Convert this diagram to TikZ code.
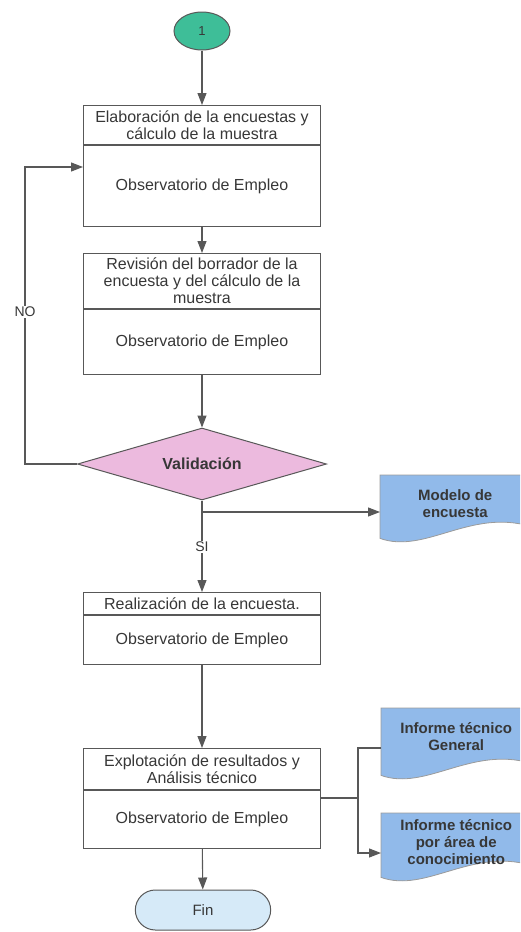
\documentclass[tikz,border=0pt]{standalone}
\usepackage{fontspec}
\setmainfont{Liberation Sans}
\usetikzlibrary{shapes,
	arrows,
	arrows.meta,
	calc,
	positioning}
\definecolor{lin}{RGB}{88,88,88}
\definecolor{txt}{RGB}{55,55,55}
\definecolor{startgreen}{RGB}{62,190,152}
\definecolor{decpink}{RGB}{236,186,222}
\definecolor{docblue}{RGB}{145,186,234}
\definecolor{finblue}{RGB}{214,234,248}
\tikzstyle{hd}=[draw=lin, line width=1pt, minimum width=237pt, inner sep=0,
		align=center, text=txt, font=\fontsize{16}{17}\selectfont, anchor=north]
\tikzstyle{bd}=[hd]
\tikzstyle{ln}=[draw=lin, line width=1.1pt]
\tikzstyle{flow}=[ln, -{Triangle[length=12pt,width=9pt]}]
\tikzstyle{lbl}=[fill=white, inner sep=1pt, text=txt, font=\fontsize{14}{16}\selectfont]
\tikzstyle{doc}=[minimum width=150pt, inner sep=0, anchor=north west, align=center,
		text=txt, font=\bfseries\fontsize{15}{17}\selectfont]
% document shape with wavy bottom, drawn round a named node
\newcommand{\docshape}[1]{
	\filldraw[fill=docblue, draw=lin!60, line width=0.8pt]
		(#1.north east) -- (#1.north west) -- ($(#1.south west)+(0,8)$)
		.. controls ($(#1.south west)+(45,24)$) and ($(#1.south east)+(-60,-22)$)
		.. ($(#1.south east)+(0,-4)$) -- cycle;
}

\begin{document}
\begin{tikzpicture}[x=1pt, y=-1pt]
	\useasboundingbox (0,0) rectangle (520,932);
	\clip (0,0) rectangle (520,932);

	\node[ellipse, draw=lin, line width=1pt, fill=startgreen, minimum width=56pt,
		minimum height=38pt, text=txt, font=\fontsize{13}{15}\selectfont] (start) at (202,31) {1};

	\node[hd, minimum height=39pt] (elab) at (202,105)
		{Elaboración de la encuestas y\\cálculo de la muestra};
	\node[bd, minimum height=81pt] (elabobs) at (elab.south) {Observatorio de Empleo};

	\node[hd, minimum height=55pt] (rev) at (202,253)
		{Revisión del borrador de la\\encuesta y del cálculo de la\\muestra};
	\node[bd, minimum height=65pt] (revobs) at (rev.south) {Observatorio de Empleo};

	\node[diamond, aspect=3.46, draw=lin, line width=1pt, fill=decpink, inner sep=0,
		minimum width=249pt, minimum height=72pt, text=txt,
		font=\bfseries\fontsize{16}{18}\selectfont] (valid) at (202,464) {Validación};

	\node[hd, minimum height=22pt] (real) at (202,592) {Realización de la encuesta.};
	\node[bd, minimum height=49pt] (realobs) at (real.south) {Observatorio de Empleo};

	\node[hd, minimum height=41pt] (expl) at (202,748)
		{Explotación de resultados y\\Análisis técnico};
	\node[bd, minimum height=58pt] (explobs) at (expl.south) {Observatorio de Empleo};

	\node[rounded rectangle, draw=lin, line width=1pt, fill=finblue, minimum width=142pt,
		minimum height=40pt, text=txt, font=\fontsize{15}{17}\selectfont] (fin) at (203,910) {Fin};

	% documents
	\node[doc, minimum height=55pt] (modelo) at (380,475) {};
	\docshape{modelo}
	\node[doc, minimum height=56pt] at (modelo.north west) {Modelo de\\encuesta};

	\node[doc, minimum height=59pt] (infgen) at (381,708) {};
	\docshape{infgen}
	\node[doc, minimum height=56pt] at (infgen.north west) {Informe técnico\\General};

	\node[doc, minimum height=56pt] (infarea) at (381,813) {};
	\docshape{infarea}
	\node[doc, minimum height=58pt] at (infarea.north west)
		{Informe técnico\\por área de\\conocimiento};

	% connectors
	\draw[flow] (start) -- (elab);
	\draw[flow] (elabobs) -- (rev);
	\draw[flow] (revobs) -- (valid);

	\coordinate (no1) at (25,464);
	\coordinate (no2) at (25,167);
	\draw[flow] (valid.west) -- (no1) -- (no2) -- (no2 -| elabobs.west);
	\node[lbl] (nolbl) at (25,312) {NO};

	\coordinate (si) at (202,512);
	\draw[flow] (valid.south) -- (real.north);
	\draw[flow] (si) -- (si -| modelo.west);
	\node[lbl] (silbl) at (202,547) {SI};

	\draw[flow] (realobs) -- (expl);
	\draw[flow] (explobs) -- (fin);

	\coordinate (jr) at (358,798);
	\coordinate (j1) at (358,748);
	\coordinate (j2) at (358,853);
	\draw[ln] (explobs.east |- jr) -- (jr) -- (j1) -- (j1 -| infgen.west);
	\draw[flow] (jr) -- (j2) -- (j2 -| infarea.west);
\end{tikzpicture}
\end{document}
